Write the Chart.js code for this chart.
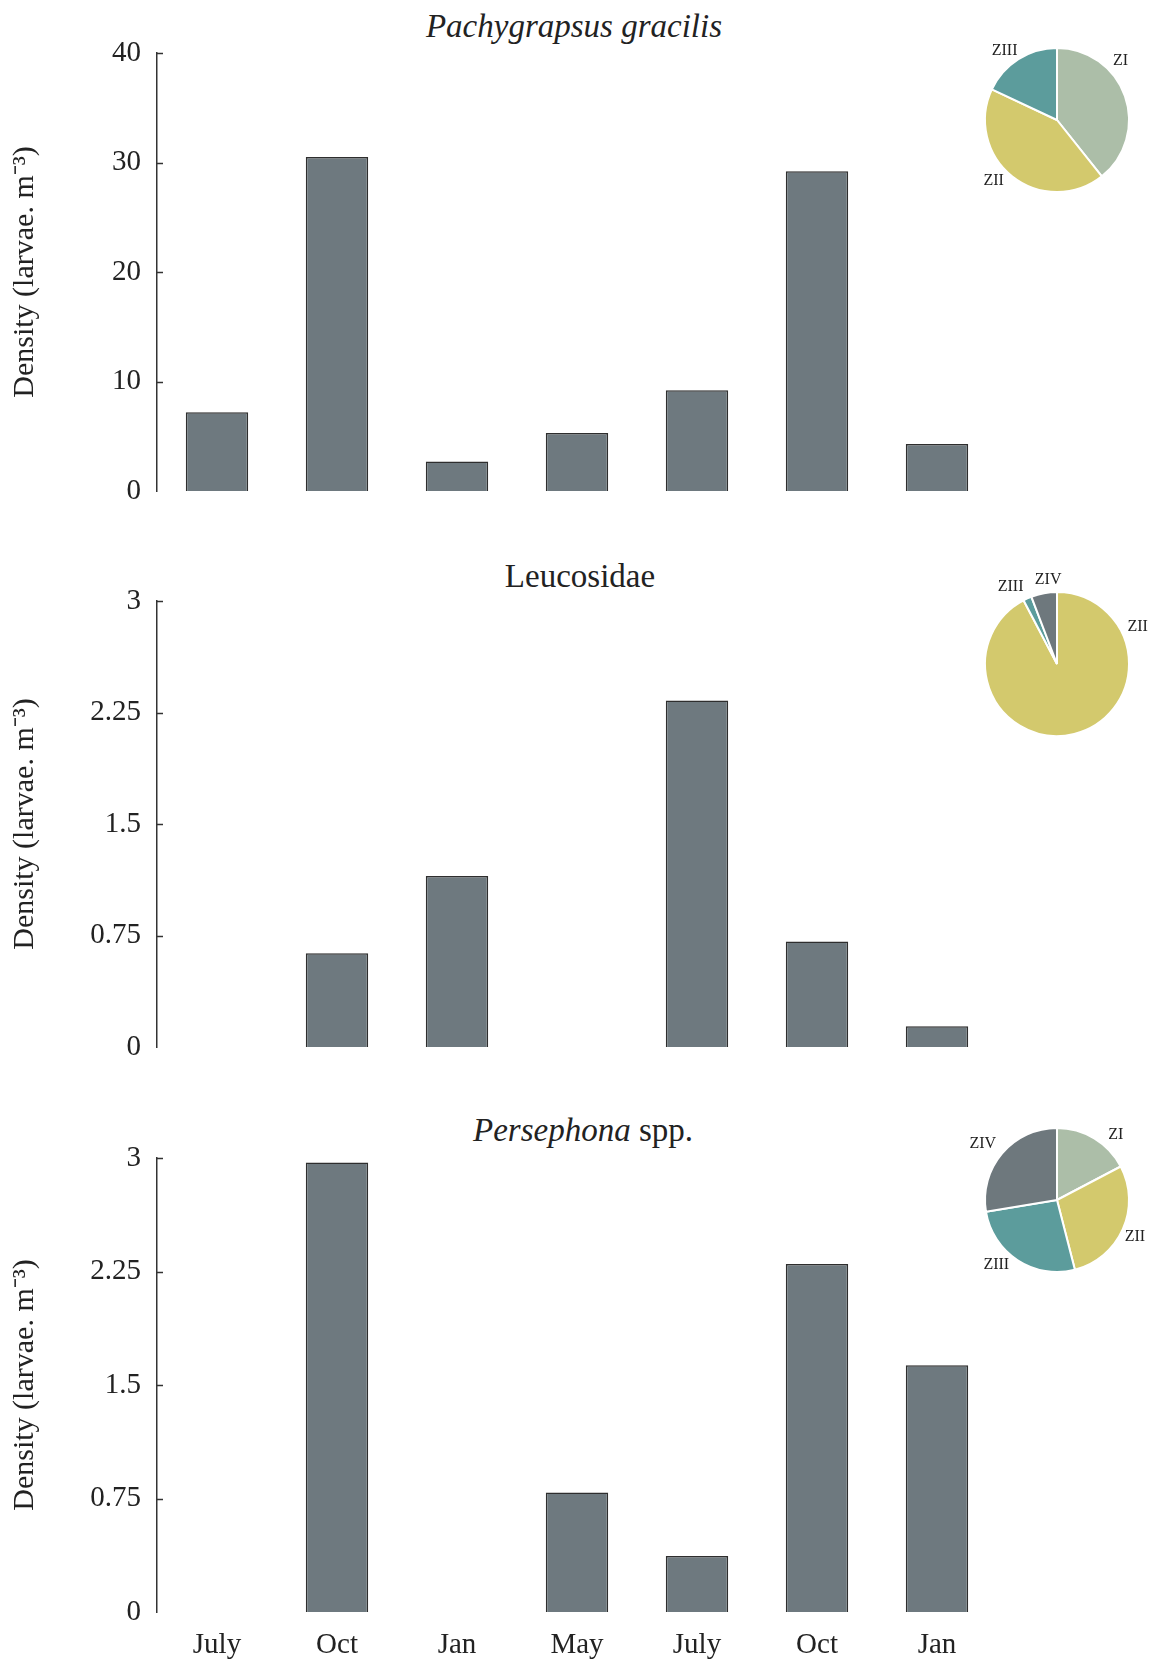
<!DOCTYPE html>
<html>
<head>
<meta charset="utf-8">
<script src="https://cdn.jsdelivr.net/npm/chart.js@4.4.0/dist/chart.umd.min.js"></script>
<style>
  body { margin: 0; background: #fff; }
  #page { position: relative; width: 1155px; height: 1662px; overflow: hidden; }
  canvas { position: absolute; left: 0; }
  .ttl { position: absolute; font-family: "Liberation Serif", serif; font-size: 33px; color: #222;
         transform: translate(-50%, -50%); white-space: nowrap; }
  .pie { position: absolute; }
</style>
</head>
<body>
<div id="page">
  <div class="ttl" style="left:574px; top:26px;"><i>Pachygrapsus gracilis</i></div>
  <div class="ttl" style="left:580px; top:576px;">Leucosidae</div>
  <div class="ttl" style="left:583px; top:1130px;"><i>Persephona</i> spp.</div>

  <canvas id="bar1" width="1155" height="531" style="top:0px"></canvas>
  <canvas id="bar2" width="1155" height="560" style="top:530px"></canvas>
  <canvas id="bar3" width="1155" height="572" style="top:1090px"></canvas>

  <canvas id="pie1" class="pie" width="230" height="230" style="left:942px; top:5px"></canvas>
  <canvas id="pie2" class="pie" width="230" height="230" style="left:942px; top:549px"></canvas>
  <canvas id="pie3" class="pie" width="230" height="230" style="left:942px; top:1085px"></canvas>
</div>

<script>
// sampling months
var months = ["July", "Oct", "Jan", "May", "July", "Oct", "Jan"];

// larval density (larvae m-3)
var pachygrapsus = [7.2, 30.5, 2.7, 5.3, 9.2, 29.2, 4.3];
var leucosidae = [0, 0.63, 1.15, 0, 2.33, 0.71, 0.14];
var persephona = [0, 2.97, 0, 0.79, 0.37, 2.3, 1.63];

var yTicks40 = [0, 10, 20, 30, 40];
var yTicks3 = [0, 0.75, 1.5, 2.25, 3];

// zoeal stage composition (%)
var pie1Stages = ["ZI", "ZII", "ZIII"];
var pie1Values = [39.3, 42.7, 18.0];
var pie2Stages = ["ZII", "ZIII", "ZIV"];
var pie2Values = [92.3, 1.9, 5.8];
var pie3Stages = ["ZI", "ZII", "ZIII", "ZIV"];
var pie3Values = [17.3, 28.7, 26.4, 27.6];

var stageColors = { ZI: "#acbea8", ZII: "#d3c96d", ZIII: "#5c9c9c", ZIV: "#6e787d" };

Chart.defaults.font.family = "'Liberation Serif', 'Times New Roman', serif";
Chart.defaults.color = "#222";

// short ticks drawn inside the plot, against the y axis
var innerTicks = {
  id: "innerTicks",
  afterDraw: function (chart) {
    var y = chart.scales.y;
    var ctx = chart.ctx;
    ctx.save();
    ctx.strokeStyle = "#333";
    ctx.lineWidth = 1.5;
    y.ticks.forEach(function (t) {
      if (t.value === 0) return;
      var py = Math.round(y.getPixelForValue(t.value)) + 0.5;
      ctx.beginPath();
      ctx.moveTo(y.right, py);
      ctx.lineTo(y.right + 6, py);
      ctx.stroke();
    });
    ctx.restore();
  }
};

function makeBar(id, values, ticks, padTop, padBottom, showX) {
  var maxV = ticks[ticks.length - 1];
  return new Chart(document.getElementById(id), {
    type: "bar",
    data: {
      labels: months,
      datasets: [{
        data: values,
        backgroundColor: "#6e797f",
        borderColor: "#2e2e2e",
        borderWidth: 1.5,
        barPercentage: 0.52,
        categoryPercentage: 1
      }]
    },
    options: {
      responsive: false,
      animation: false,
      layout: { padding: { top: padTop, bottom: padBottom, left: 0, right: 158 } },
      plugins: { legend: { display: false }, tooltip: { enabled: false } },
      scales: {
        x: {
          display: showX,
          grid: { display: false, drawTicks: false },
          border: { display: false },
          ticks: { font: { size: 29 }, padding: 16, color: "#222" },
          afterFit: function (s) { if (showX) s.height = 50; }
        },
        y: {
          min: 0,
          max: maxV,
          afterBuildTicks: function (s) {
            s.ticks = ticks.map(function (v) { return { value: v }; });
          },
          grid: { display: false, drawTicks: false },
          border: { display: true, color: "#333", width: 1.5 },
          ticks: {
            font: { size: 29 },
            padding: 16,
            color: "#222",
            callback: function (v) { return String(+v.toFixed(2)); }
          },
          title: {
            display: true,
            text: "Density (larvae. m⁻³)",
            font: { size: 30 },
            color: "#222",
            padding: { top: 7, bottom: 0 }
          },
          afterFit: function (s) { s.width = 157; }
        }
      }
    },
    plugins: [innerTicks]
  });
}

makeBar("bar1", pachygrapsus, yTicks40, 53, 40, false);
makeBar("bar2", leucosidae, yTicks3, 71, 43, false);
makeBar("bar3", persephona, yTicks3, 68, 0, true);

// stage labels around each pie, placed by angle from 12 o'clock
var pieLabels = {
  id: "pieLabels",
  afterDraw: function (chart, args, opts) {
    var arc = chart.getDatasetMeta(0).data[0];
    if (!arc) return;
    var ctx = chart.ctx;
    ctx.save();
    ctx.font = "16px 'Liberation Serif', serif";
    ctx.fillStyle = "#222";
    ctx.textAlign = "center";
    ctx.textBaseline = "middle";
    chart.data.labels.forEach(function (lab, i) {
      var a = opts.angles[i] * Math.PI / 180;
      var d = opts.dist[i];
      ctx.fillText(lab, arc.x + d * Math.sin(a), arc.y - d * Math.cos(a));
    });
    ctx.restore();
  }
};

function makePie(id, stages, values, angles, dist) {
  return new Chart(document.getElementById(id), {
    type: "pie",
    data: {
      labels: stages,
      datasets: [{
        data: values,
        backgroundColor: stages.map(function (s) { return stageColors[s]; }),
        borderColor: "#fff",
        borderWidth: 2
      }]
    },
    options: {
      responsive: false,
      animation: false,
      radius: 72,
      layout: { padding: 0 },
      plugins: {
        legend: { display: false },
        tooltip: { enabled: false },
        pieLabels: { angles: angles, dist: dist }
      }
    },
    plugins: [pieLabels]
  });
}

makePie("pie1", pie1Stages, pie1Values, [47, 226, 323], [87, 88, 87]);
makePie("pie2", pie2Stages, pie2Values, [65, 329, 354], [89, 90, 85]);
makePie("pie3", pie3Stages, pie3Values, [42, 115, 223, 307], [88, 86, 89, 93]);
</script>
</body>
</html>
